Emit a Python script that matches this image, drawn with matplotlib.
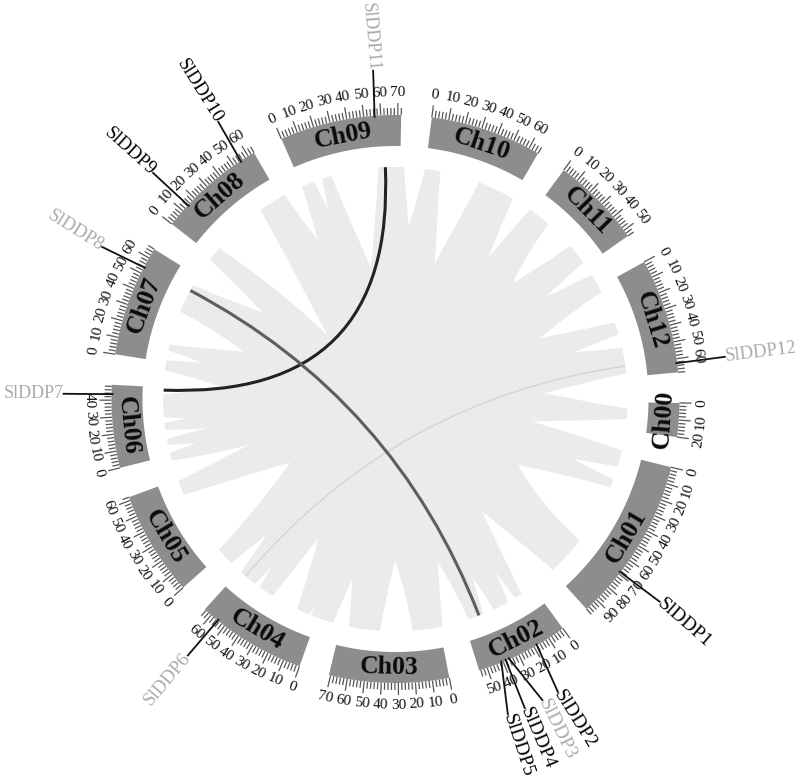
import numpy as np
import matplotlib
matplotlib.use('Agg')
import matplotlib.pyplot as plt
from matplotlib.path import Path
from matplotlib.patches import PathPatch, Polygon

plt.rcParams['font.family'] = ['Liberation Serif', 'DejaVu Serif']

# ---- data ----
chromosomes = ['Ch00', 'Ch01', 'Ch02', 'Ch03', 'Ch04', 'Ch05', 'Ch06',
               'Ch07', 'Ch08', 'Ch09', 'Ch10', 'Ch11', 'Ch12']
lengths = [20, 98, 55, 71, 65, 62, 49, 66, 64, 72, 66, 54, 68]

# synteny block spans on the chromosomes (chromosome, start Mb, end Mb)
block_A = ('Ch08', 47.8, 67.8)
block_B = ('Ch09', 0, 9)
block_C = ('Ch09', 15.4, 22)
block_D = ('Ch09', 56.5, 74.5)
block_E = ('Ch10', 0, 11)
block_F = ('Ch10', 40, 66.5)
block_G = ('Ch11', -2.6, 13.6)
block_H = ('Ch11', 36.2, 51)
block_I = ('Ch12', -10, 4)
block_J = ('Ch12', 28, 36.5)
block_K = ('Ch12', 47, 65)
block_L = ('Ch00', 4.6, 12)
block_M = ('Ch01', -3, 8.7)
block_N = ('Ch01', 18.5, 24.3)
block_O = ('Ch01', 68.7, 96.8)
block_P = ('Ch02', 9.3, 14.8)
block_Q = ('Ch02', 20.6, 32)
block_R = ('Ch02', 40.3, 51.3)
block_S = ('Ch03', -2, 19)
block_T = ('Ch03', 43, 65)
block_U = ('Ch04', -12, 4)
block_V = ('Ch04', 5.8, 15.4)
block_W = ('Ch04', 35.4, 46.4)
block_X = ('Ch04', 50.7, 63.5)
block_Y = ('Ch05', -9.6, 3.2)
block_Z = ('Ch05', 50, 60.3)
block_AA = ('Ch06', -4, 1.7)
block_AB = ('Ch06', 7.5, 12)
block_AC = ('Ch06', 18.5, 23.5)
block_AD = ('Ch06', 27.8, 43.8)
block_AE = ('Ch07', -5.8, 1.4)
block_AF = ('Ch07', 8.7, 13)
block_AG = ('Ch07', 38, 58.5)
block_AH = ('Ch08', -3.2, 7.2)

synteny_pairs = [
    (block_A, block_O), (block_AH, block_Q), (block_AG, block_S), (block_AF, block_K),
    (block_AE, block_M), (block_AD, block_L), (block_AC, block_J), (block_AB, block_N),
    (block_AA, block_H), (block_Z, block_K), (block_Y, block_E), (block_X, block_F),
    (block_W, block_G), (block_V, block_D), (block_U, block_D), (block_T, block_C),
    (block_S, block_B), (block_R, block_A), (block_Q, block_B), (block_P, block_C),
    (block_O, block_G), (block_N, block_AG), (block_M, block_AD), (block_L, block_AG),
    (block_J, block_AD), (block_I, block_Z), (block_H, block_Y), (block_G, block_T),
    (block_F, block_U), (block_E, block_S), (block_D, block_T), (block_D, block_S),
    (block_F, block_X), (block_K, block_AD), (block_O, block_AG), (block_O, block_A),
    (block_T, block_F), (block_U, block_I), (block_R, block_AE), (block_Q, block_AF),
]

gene_names = ['SlDDP1', 'SlDDP2', 'SlDDP3', 'SlDDP4', 'SlDDP5', 'SlDDP6',
              'SlDDP7', 'SlDDP8', 'SlDDP9', 'SlDDP10', 'SlDDP11', 'SlDDP12']
gene_chr = ['Ch01', 'Ch02', 'Ch02', 'Ch02', 'Ch02', 'Ch04',
            'Ch06', 'Ch07', 'Ch08', 'Ch08', 'Ch09', 'Ch12']
gene_pos = [68.7, 18, 36.2, 38.3, 41, 55, 43.5, 53.8, 14.5, 54.8, 56.4, 62.6]
gene_colors = ['#000000', '#000000', '#aaaaaa', '#000000', '#000000', '#aaaaaa',
               '#aaaaaa', '#aaaaaa', '#000000', '#000000', '#aaaaaa', '#aaaaaa']

# collinear gene pairs
pair_a_chr = ['Ch09', 'Ch07', 'Ch12']
pair_a_pos = [61.4, 54.5, 60]
pair_b_chr = ['Ch06', 'Ch02', 'Ch04']
pair_b_pos = [47, 43.5, 59.4]
pair_colors = ['#222222', '#5e5e5e', '#d4d4d4']

# ---- layout ----
CX, CY = 395.5, 399.0
R_IN, R_OUT, R_LINK = 253.0, 284.0, 232.0
R_MINOR, R_MAJOR, R_TXT = 291.0, 296.0, 306.0
CTRL_R = 28.0
DEG_PER_MB = 0.345
START = 0.8
GAP = (360.0 - sum(lengths) * DEG_PER_MB) / len(lengths)
LAB_ANGLE = [37.5, 61.0, 64.0, 67.3, 70.4, 129.0, 180.9, 207.4, 223.0, 237.4, 266.1, 352.7]
LAB_R = [333, 335, 335, 335, 335, 330, 332, 330.5, 331.5, 329, 329, 332]
LAB_ROT = [-41, -58, -64, -67, -72, 50, 0, -32, -42, -58, -85, 7]
LAB_HA = ['left'] * 5 + ['right'] * 6 + ['left']
LAB_SIZE = [14, 14, 14, 14, 14, 13.5, 13, 13.5, 13.5, 13.5, 13, 13.5]

starts = {}
a = START
for c, l in zip(chromosomes, lengths):
    starts[c] = a
    a += l * DEG_PER_MB + GAP


def ang(c, p):
    return starts[c] + p * DEG_PER_MB


def pt(angle, r):
    t = np.deg2rad(angle)
    return CX + r * np.cos(t), CY + r * np.sin(t)


def ctrl(u, v):
    sweep = (v - u) % 360.0
    return pt(u + sweep / 2.0, CTRL_R)


def upright(angle):
    rot = -(angle + 90.0)
    return (rot + 90.0) % 180.0 - 90.0


fig = plt.figure(figsize=(8.0, 7.78), dpi=100)
ax = fig.add_axes([0, 0, 1, 1])
ax.set_xlim(0, 800)
ax.set_ylim(778, 0)
ax.axis('off')

# ribbons
RIBBON = '#ebebeb'
for (c1, p1, p2), (c2, q1, q2) in synteny_pairs:
    a1, a2 = ang(c1, p1), ang(c1, p2)
    b1, b2 = ang(c2, q1), ang(c2, q2)
    va = [pt(x, R_LINK) for x in np.linspace(a1, a2, 8)]
    vb = [pt(x, R_LINK) for x in np.linspace(b1, b2, 8)]
    verts = list(va) + [ctrl(a2, b1), vb[0]] + vb[1:] + [ctrl(b2, a1), va[0]]
    codes = ([Path.MOVETO] + [Path.LINETO] * 7 + [Path.CURVE3, Path.CURVE3]
             + [Path.LINETO] * 7 + [Path.CURVE3, Path.CURVE3])
    ax.add_patch(PathPatch(Path(verts, codes), fc=RIBBON, ec='none', lw=0, zorder=1))

# gene pair curves
widths = [2.2, 2.2, 1.0]
for ca, pa, cb, pb, col, w in zip(pair_a_chr, pair_a_pos, pair_b_chr, pair_b_pos, pair_colors, widths):
    p0 = pt(ang(ca, pa), R_LINK)
    p1 = pt(ang(cb, pb), R_LINK)
    ax.add_patch(PathPatch(Path([p0, (CX, CY), p1], [Path.MOVETO, Path.CURVE3, Path.CURVE3]),
                           fc='none', ec=col, lw=w, zorder=3 if w > 1 else 2))

# chromosome bands, ticks, labels
for c, l in zip(chromosomes, lengths):
    s, e = ang(c, 0), ang(c, l)
    th = np.linspace(s, e, 60)
    poly = [pt(x, R_OUT) for x in th] + [pt(x, R_IN) for x in th[::-1]]
    ax.add_patch(Polygon(poly, closed=True, fc='#8d8d8d', ec='none', zorder=4))
    mid = (s + e) / 2
    x, y = pt(mid, (R_IN + R_OUT) / 2)
    ax.text(x, y, c, fontsize=18.5, fontweight='bold', color='#0a0a0a',
            rotation=upright(mid), rotation_mode='anchor', ha='center', va='center', zorder=6)
    for m in np.arange(0, l + 0.01, 2):
        ta = ang(c, m)
        major = int(m) % 10 == 0
        p0 = pt(ta, R_OUT)
        p1 = pt(ta, R_MAJOR if major else R_MINOR)
        ax.plot([p0[0], p1[0]], [p0[1], p1[1]], color='#555555', lw=0.9,
                solid_capstyle='butt', zorder=3)
        if major:
            tx, ty = pt(ta, R_TXT)
            ax.text(tx, ty, str(int(m)), fontsize=11, color='#111111',
                    rotation=upright(ta), rotation_mode='anchor',
                    ha='center', va='center', zorder=6)

# gene callouts
for i, name in enumerate(gene_names):
    t = ang(gene_chr[i], gene_pos[i])
    p0 = pt(t, R_OUT - 1)
    p1 = pt(LAB_ANGLE[i], LAB_R[i])
    ax.plot([p0[0], p1[0]], [p0[1], p1[1]], color='#111111', lw=1.3, zorder=5)
    ax.text(p1[0], p1[1], name, fontsize=LAB_SIZE[i], color=gene_colors[i], rotation=LAB_ROT[i],
            rotation_mode='anchor', ha=LAB_HA[i], va='center', zorder=6)

fig.savefig('out.png', dpi=100, facecolor='white')
